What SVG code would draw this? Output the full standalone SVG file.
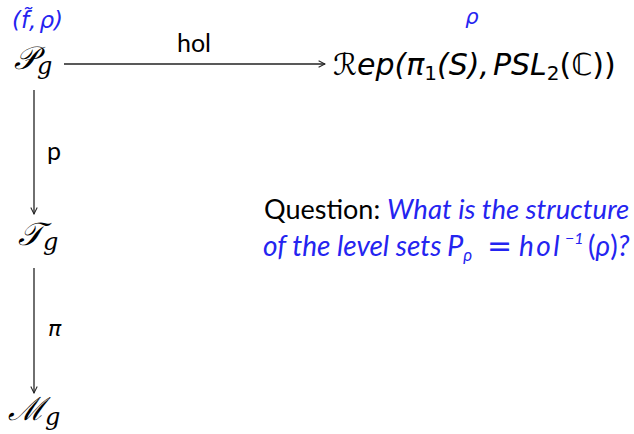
<svg xmlns="http://www.w3.org/2000/svg" width="634" height="434" viewBox="0 0 634 434">
<style>
.t{font-family:Lato,"DejaVu Sans",sans-serif;fill:#000}
.li{font-family:Lato,"DejaVu Sans",sans-serif;font-style:italic}
.m{font-family:"DejaVu Sans","Liberation Sans",sans-serif;font-style:italic;fill:#000}
.cal{font-family:"DejaVu Serif","Liberation Serif",serif;font-style:italic;fill:#000}
.b{fill:#2424f0}
.ln{stroke:#222;stroke-width:1.3;fill:none}
</style>
<defs>
<marker id="ah" viewBox="0 0 10 10" refX="9" refY="5" markerWidth="8" markerHeight="8" orient="auto" markerUnits="userSpaceOnUse">
<path d="M1,1 L9,5 L1,9" fill="none" stroke="#222" stroke-width="1.3"/>
</marker>
</defs>
<g id="connectors">
<line class="ln" x1="64" y1="64" x2="325" y2="64" marker-end="url(#ah)"/>
<text class="t" x="194" y="52" font-size="25" text-anchor="middle">hol</text>
<line class="ln" x1="34" y1="90" x2="34" y2="214" marker-end="url(#ah)"/>
<text class="t" x="47" y="160" font-size="25">p</text>
<line class="ln" x1="34" y1="268" x2="34" y2="393" marker-end="url(#ah)"/>
<text class="m" x="48" y="336" font-size="22">π</text>
</g>
<g id="node-P">
<text class="m b" x="12" y="28" font-size="23">(f̃,<tspan dx="3">ρ)</tspan></text>
<text class="cal" x="14" y="69" font-size="32">𝒫<tspan font-size="24" dy="5">g</tspan></text>
</g>
<g id="node-Rep">
<text class="m b" x="472" y="24" font-size="21" text-anchor="middle">ρ</text>
<text class="m" x="333" y="75" font-size="30">ℛep(π<tspan font-size="20" dy="5" font-style="normal">1</tspan><tspan dy="-5">(S),</tspan><tspan dx="4">PSL</tspan><tspan font-size="20" dy="5" font-style="normal">2</tspan><tspan dy="-5" font-style="normal">(ℂ))</tspan></text>
</g>
<g id="node-T">
<text class="cal" x="18" y="245" font-size="32">𝒯<tspan font-size="24" dy="5">g</tspan></text>
</g>
<g id="node-M">
<text class="cal" x="8" y="420" font-size="32">ℳ<tspan font-size="24" dy="5">g</tspan></text>
</g>
<g id="question">
<text class="t" x="264" y="219" font-size="27">Question: <tspan class="li b" font-size="27.5">What is the structure</tspan></text>
<text class="li b" x="263" y="256" font-size="28">of the level sets</text>
<text class="li b" x="447" y="256" font-size="29">P<tspan font-size="17" dy="5">ρ</tspan></text>
<text class="m b" x="487" y="256" font-size="30" font-style="normal">=</text>
<text class="li b" x="519" y="256" font-size="28" letter-spacing="2.5">hol</text>
<text class="li b" x="565" y="244" font-size="16" font-style="normal">−1</text>
<text class="li b" x="588" y="256" font-size="28"><tspan font-style="normal">(</tspan>ρ<tspan font-style="normal">)</tspan>?</text>
</g>
</svg>
